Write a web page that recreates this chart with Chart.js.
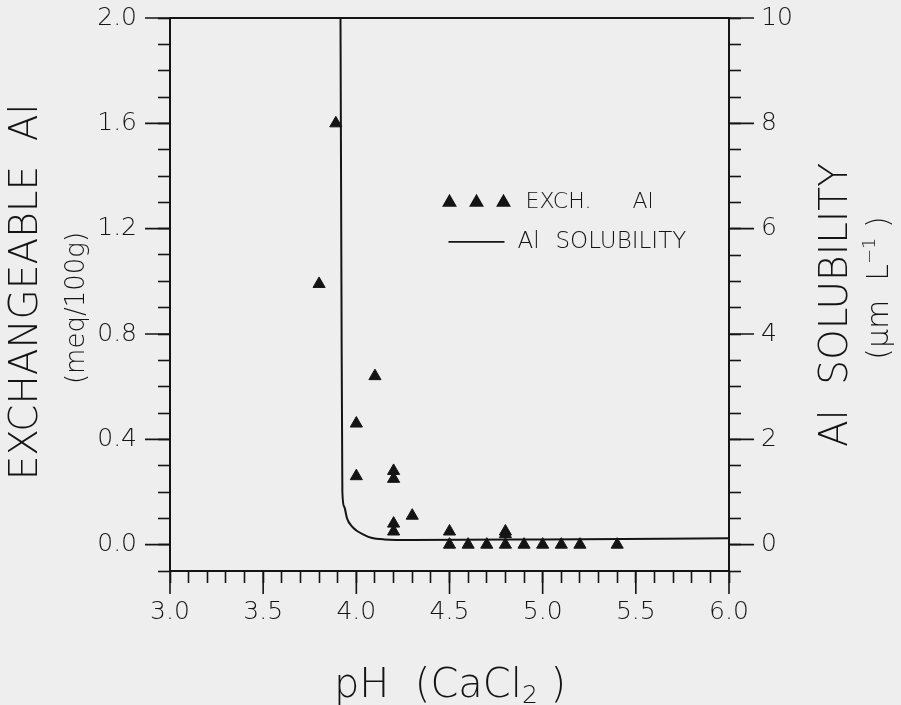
<!DOCTYPE html>
<html>
<head>
<meta charset="utf-8">
<script src="https://cdn.jsdelivr.net/npm/chart.js@4.4.1/dist/chart.umd.min.js"></script>
<style>
  html, body { margin: 0; padding: 0; background: #eeeeee; }
  #wrap { width: 901px; height: 705px; }
</style>
</head>
<body>
<div id="wrap"><canvas id="alChart" width="901" height="705"></canvas></div>
<script>
// exchangeable Al (meq/100g) against pH (CaCl2)
const exchPH = [3.8, 3.89, 4.0, 4.0, 4.1, 4.2, 4.2, 4.2, 4.2, 4.3, 4.5, 4.5, 4.6, 4.7, 4.8, 4.8, 4.8, 4.9, 5.0, 5.1, 5.2, 5.4];
const exchAl = [0.99, 1.6, 0.46, 0.26, 0.64, 0.28, 0.25, 0.08, 0.05, 0.11, 0.05, 0.0, 0.0, 0.0, 0.05, 0.04, 0.0, 0.0, 0.0, 0.0, 0.0, 0.0];

// Al solubility curve (um/L), right axis
const solPH  = [3.915, 3.92, 3.925, 3.935, 3.95, 3.975, 4.0, 4.04, 4.08, 4.15, 4.3, 5.0, 6.0];
const solVal = [10.0, 5.0, 1.0, 0.72, 0.5, 0.35, 0.27, 0.19, 0.13, 0.1, 0.09, 0.1, 0.12];

const ink = '#141414';
const fam = '"DejaVu Sans", "Liberation Sans", sans-serif';
Chart.defaults.font.family = fam;
Chart.defaults.color = ink;

function isStep(v, s) { return Math.abs(v / s - Math.round(v / s)) < 1e-6; }

function runs(ctx, parts) {
  // draws text pieces centred on 0, baseline 0
  let w = 0;
  parts.forEach(p => { ctx.font = '200 ' + p.size + 'px ' + fam; p.w = ctx.measureText(p.t).width; w += p.w; });
  let x = -w / 2;
  parts.forEach(p => {
    ctx.font = '200 ' + p.size + 'px ' + fam;
    ctx.fillText(p.t, x, p.dy || 0);
    x += p.w;
  });
}

const frame = {
  id: 'frame',
  beforeDraw(chart) {
    const ctx = chart.ctx;
    ctx.save();
    ctx.fillStyle = '#eeeeee';
    ctx.fillRect(0, 0, chart.width, chart.height);
    ctx.restore();
  },
  afterDraw(chart) {
    const {ctx, chartArea: a, scales} = chart;
    ctx.save();
    ctx.strokeStyle = ink;
    ctx.fillStyle = ink;
    ctx.lineWidth = 2;
    ctx.beginPath();
    ctx.moveTo(a.left - 1, a.top); ctx.lineTo(a.right + 1, a.top);
    ctx.stroke();

    // longer major ticks
    ctx.lineWidth = 1.6;
    ctx.beginPath();
    scales.x.ticks.forEach(t => {
      if (isStep(t.value, 0.5)) {
        const px = scales.x.getPixelForValue(t.value);
        ctx.moveTo(px, a.bottom); ctx.lineTo(px, a.bottom + 23);
      }
    });
    scales.y.ticks.forEach(t => {
      if (t.value >= 0 && isStep(t.value, 0.4)) {
        const py = scales.y.getPixelForValue(t.value);
        ctx.moveTo(a.left - 25, py); ctx.lineTo(a.left, py);
      }
    });
    scales.y2.ticks.forEach(t => {
      if (t.value >= 0 && isStep(t.value, 2)) {
        const py = scales.y2.getPixelForValue(t.value);
        ctx.moveTo(a.right, py); ctx.lineTo(a.right + 25, py);
      }
    });
    ctx.stroke();

    // axis titles
    ctx.textAlign = 'left';
    ctx.textBaseline = 'alphabetic';
    ctx.save(); ctx.translate(37, 292); ctx.rotate(-Math.PI / 2);
    runs(ctx, [{t: 'EXCHANGEABLE  Al', size: 39}]);
    ctx.restore();
    ctx.save(); ctx.translate(84, 308); ctx.rotate(-Math.PI / 2);
    runs(ctx, [{t: '(meq/100g)', size: 26}]);
    ctx.restore();
    ctx.save(); ctx.translate(847, 305); ctx.rotate(-Math.PI / 2);
    runs(ctx, [{t: 'Al  SOLUBILITY', size: 39}]);
    ctx.restore();
    ctx.save(); ctx.translate(888, 288); ctx.rotate(-Math.PI / 2);
    runs(ctx, [{t: '(\u03bcm  L', size: 30}, {t: '\u22121', size: 18, dy: -13}, {t: ' )', size: 30}]);
    ctx.restore();
    ctx.save(); ctx.translate(450, 697);
    runs(ctx, [{t: 'pH  (CaCl', size: 40}, {t: '2', size: 25, dy: 6}, {t: ' )', size: 40}]);
    ctx.restore();

    // legend
    const lx = scales.x.getPixelForValue(4.5);
    const ly1 = scales.y.getPixelForValue(1.3);
    const ly2 = scales.y.getPixelForValue(1.15);
    [0, 27, 54].forEach(dx => {
      Chart.helpers.drawPoint(ctx, {pointStyle: 'triangle', radius: 7, borderWidth: 1}, lx + dx, ly1);
      ctx.fill();
    });
    ctx.font = '200 22px ' + fam;
    ctx.textBaseline = 'middle';
    ctx.fillText('EXCH.', lx + 76, ly1);
    ctx.fillText('Al', lx + 183, ly1);
    ctx.lineWidth = 1.8;
    ctx.beginPath();
    ctx.moveTo(lx - 1, ly2); ctx.lineTo(lx + 55, ly2);
    ctx.stroke();
    ctx.font = '200 23px ' + fam;
    ctx.fillText('Al', lx + 68, ly2);
    ctx.fillText('SOLUBILITY', lx + 106, ly2);
    ctx.restore();
  }
};

const tickFont = {size: 25, weight: '200'};

function fixWidth(w) {
  return s => { s.width = w; s.paddingTop = 0; s.paddingBottom = 0; };
}

new Chart(document.getElementById('alChart'), {
  type: 'scatter',
  data: {
    datasets: [
      {
        label: 'EXCH. Al',
        data: exchPH.map((p, i) => ({x: p, y: exchAl[i]})),
        yAxisID: 'y',
        pointStyle: 'triangle',
        pointRadius: 7,
        pointBackgroundColor: ink,
        pointBorderColor: ink,
        pointBorderWidth: 1
      },
      {
        label: 'Al SOLUBILITY',
        type: 'line',
        data: solPH.map((p, i) => ({x: p, y: solVal[i]})),
        yAxisID: 'y2',
        showLine: true,
        fill: false,
        pointRadius: 0,
        borderColor: ink,
        borderWidth: 2,
        cubicInterpolationMode: 'monotone'
      }
    ]
  },
  options: {
    responsive: false,
    animation: false,
    layout: {padding: {top: 18, left: 0, right: 0, bottom: 0}},
    plugins: {legend: {display: false}, tooltip: {enabled: false}, title: {display: false}},
    scales: {
      x: {
        type: 'linear', position: 'bottom', min: 3.0, max: 6.0,
        afterFit: s => { s.height = 134; s.paddingLeft = 0; s.paddingRight = 0; },
        border: {display: true, color: ink, width: 2},
        grid: {drawOnChartArea: false, drawTicks: true, tickLength: 12, tickColor: ink, tickWidth: 1.6},
        ticks: {
          stepSize: 0.1, autoSkip: false, maxRotation: 0, padding: 14, font: tickFont, color: ink,
          callback: v => isStep(v, 0.5) ? v.toFixed(1) : ''
        }
      },
      y: {
        type: 'linear', position: 'left', min: -0.1, max: 2.0,
        afterFit: fixWidth(170),
        border: {display: true, color: ink, width: 2},
        grid: {drawOnChartArea: false, drawTicks: true, tickLength: 12, tickColor: ink, tickWidth: 1.6},
        ticks: {
          stepSize: 0.1, autoSkip: false, padding: 21, font: tickFont, color: ink,
          callback: v => (v >= 0 && isStep(v, 0.4)) ? v.toFixed(1) : ''
        }
      },
      y2: {
        type: 'linear', position: 'right', min: -0.5, max: 10,
        afterFit: fixWidth(172),
        border: {display: true, color: ink, width: 2},
        grid: {drawOnChartArea: false, drawTicks: true, tickLength: 12, tickColor: ink, tickWidth: 1.6},
        ticks: {
          stepSize: 0.5, autoSkip: false, padding: 20, font: tickFont, color: ink,
          callback: v => (v >= 0 && isStep(v, 2)) ? String(Math.round(v)) : ''
        }
      }
    }
  },
  plugins: [frame]
});
</script>
</body>
</html>
